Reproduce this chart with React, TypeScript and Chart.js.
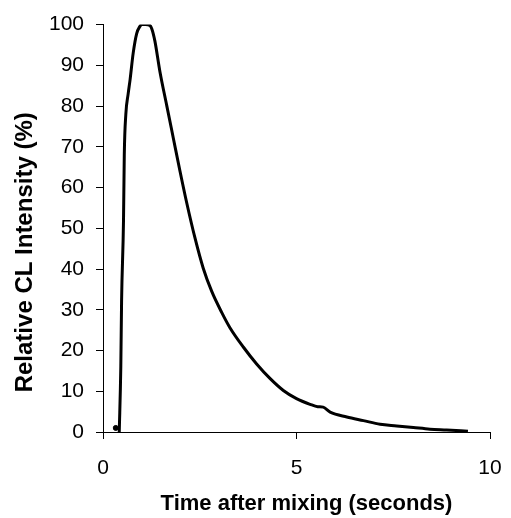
import React, { useEffect, useRef } from "react";
import { Chart, registerables } from "chart.js";

Chart.register(...registerables);

// Time after mixing (s) and relative CL intensity (%)
const times = [
  0.42, 0.46, 0.48, 0.53, 0.55, 0.59, 0.65, 0.7, 0.78, 0.87, 0.95, 1.0, 1.1, 1.21, 1.26, 1.34,
  1.47, 1.65, 1.82, 1.99, 2.16, 2.38, 2.59, 2.81, 3.07, 3.28, 3.63, 3.97, 4.32, 4.66, 5.0,
  5.35, 5.55, 5.69, 5.87, 6.3, 6.73, 7.16, 7.59, 8.02, 8.45, 8.88, 9.43,
];
const intensity = [
  0, 16, 32, 52, 68, 78, 83, 86.5, 93, 97.8, 99.5, 100, 100, 99.8, 99, 96,
  88.5, 80, 72, 64, 56.4, 47.5, 40.2, 34.5, 29.3, 25.6, 20.8, 16.7, 13.1, 10.2, 8.2,
  6.8, 6.2, 6.1, 4.9, 3.7, 2.8, 1.9, 1.5, 1.1, 0.7, 0.5, 0.2,
];
// first marker before the rise
const markerTime = [0.33];
const markerValue = [1.0];

const xTicks = [0, 5, 10];
const yTicks = [0, 10, 20, 30, 40, 50, 60, 70, 80, 90, 100];

const xTitle = "Time after mixing (seconds)";
const yTitle = "Relative CL Intensity (%)";

const FONT = "'Liberation Sans', Arial, sans-serif";

const axisTitles = {
  id: "axisTitles",
  afterDraw(chart: any) {
    const ctx = chart.ctx;
    const area = chart.chartArea;
    ctx.save();
    ctx.fillStyle = "#000";
    ctx.textAlign = "center";
    ctx.textBaseline = "alphabetic";
    ctx.font = `bold 22px ${FONT}`;
    ctx.fillText(xTitle, (area.left + area.right) / 2 + 10, chart.height - 8);
    ctx.translate(32, (area.top + area.bottom) / 2 + 24);
    ctx.rotate(-Math.PI / 2);
    ctx.font = `bold 24px ${FONT}`;
    ctx.fillText(yTitle, 0, 0);
    ctx.restore();
  },
};

export default function App() {
  const ref = useRef<HTMLCanvasElement | null>(null);
  useEffect(() => {
    if (!ref.current) return;
    const chart = new Chart(ref.current, {
      type: "line",
      data: {
        datasets: [
          {
            data: times.map((t, i) => ({ x: t, y: intensity[i] })),
            borderColor: "#000",
            borderWidth: 3,
            pointRadius: 0,
            cubicInterpolationMode: "monotone",
            fill: false,
          },
          {
            data: markerTime.map((t, i) => ({ x: t, y: markerValue[i] })),
            borderColor: "#000",
            backgroundColor: "#000",
            pointRadius: 2.5,
            showLine: false,
          },
        ],
      },
      plugins: [axisTitles],
      options: {
        responsive: false,
        animation: false,
        layout: { padding: { top: 21, right: 21, left: 0, bottom: 0 } },
        plugins: { legend: { display: false }, tooltip: { enabled: false } },
        scales: {
          x: {
            type: "linear",
            min: 0,
            max: 10,
            afterBuildTicks: (s: any) => {
              s.ticks = xTicks.map((v) => ({ value: v }));
            },
            afterFit: (s: any) => {
              s.height = 86;
              s.paddingRight = 0;
              s.paddingLeft = 0;
            },
            grid: { display: true, drawOnChartArea: false, drawTicks: true, tickLength: 7, color: "#000", lineWidth: 1 },
            border: { display: true, color: "#000", width: 1 },
            ticks: { color: "#000", padding: 17, maxRotation: 0, font: { family: FONT, size: 21 } },
          },
          y: {
            type: "linear",
            min: 0,
            max: 100,
            afterBuildTicks: (s: any) => {
              s.ticks = yTicks.map((v) => ({ value: v }));
            },
            afterFit: (s: any) => {
              s.width = 103;
            },
            grid: { display: true, drawOnChartArea: false, drawTicks: true, tickLength: 7, color: "#000", lineWidth: 1 },
            border: { display: true, color: "#000", width: 1 },
            ticks: { color: "#000", padding: 12, font: { family: FONT, size: 21 } },
          },
        },
      },
    });
    return () => chart.destroy();
  }, []);
  return (
    <div style={{ position: "fixed", left: 0, top: 0, width: 511, height: 518, background: "#fff" }}>
      <canvas ref={ref} width={511} height={518} />
    </div>
  );
}
